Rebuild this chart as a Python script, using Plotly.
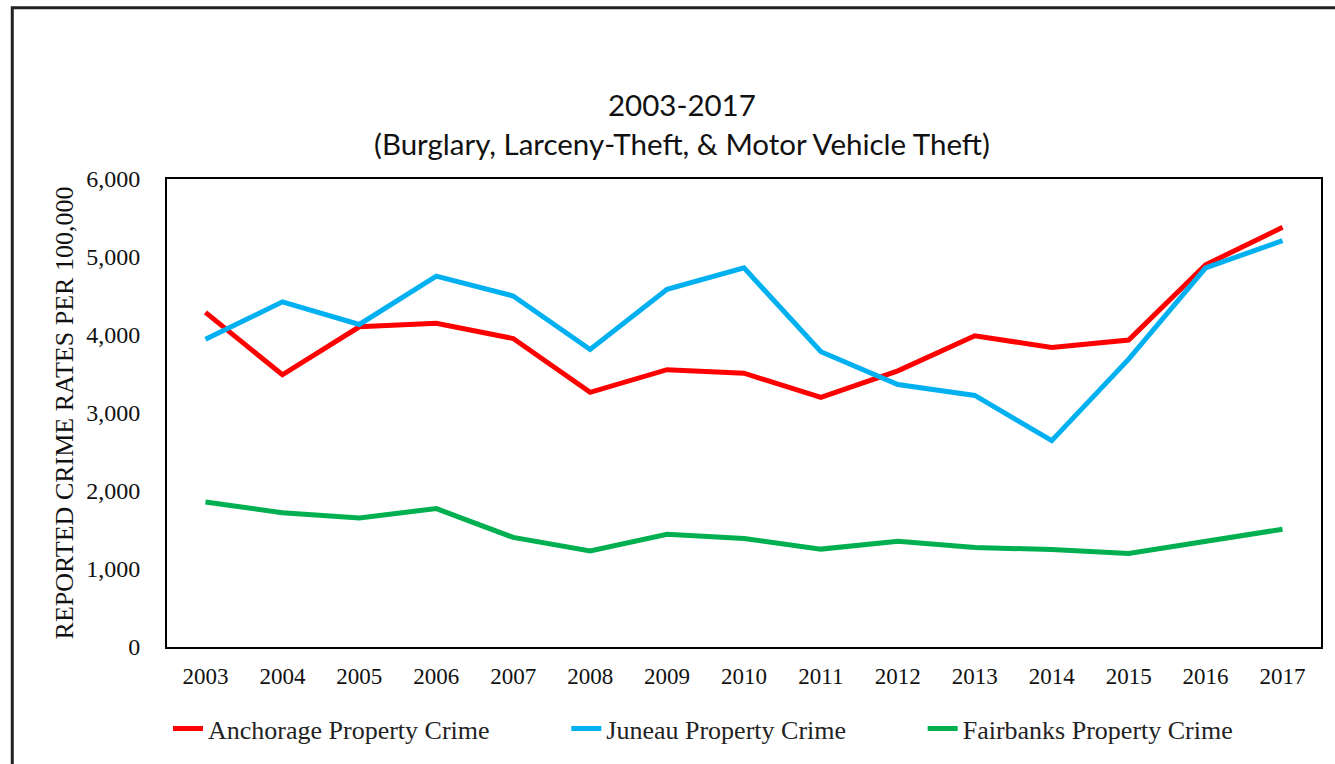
import plotly.graph_objects as go

years = [2003, 2004, 2005, 2006, 2007, 2008, 2009, 2010, 2011, 2012, 2013, 2014, 2015, 2016, 2017]
anchorage = [4290, 3490, 4105, 4150, 3955, 3265, 3555, 3510, 3200, 3540, 3990, 3840, 3935, 4900, 5380]
juneau = [3945, 4425, 4135, 4755, 4500, 3815, 4585, 4860, 3785, 3365, 3225, 2645, 3690, 4860, 5210]
fairbanks = [1860, 1720, 1655, 1775, 1405, 1230, 1445, 1390, 1255, 1355, 1275, 1250, 1200, 1360, 1510]
y_ticks = [0, 1000, 2000, 3000, 4000, 5000, 6000]

series_names = ["Anchorage Property Crime", "Juneau Property Crime", "Fairbanks Property Crime"]
series_colors = ["#FF0000", "#00B0F0", "#00B050"]
title_lines = ["2003-2017", "(Burglary, Larceny-Theft, & Motor Vehicle Theft)"]

W, H = 1335, 764
L, R, T, B = 167, 12, 179, 115
pw, ph = W - L - R, H - T - B


def px_x(p):
    return (p - L) / pw


def px_y(p):
    return (H - B - p) / ph


fig = go.Figure()
for i, (name, vals, col) in enumerate(zip(series_names, [anchorage, juneau, fairbanks], series_colors)):
    fig.add_trace(go.Scatter(
        x=years, y=vals, mode="lines", name=name,
        line=dict(color=col, width=5),
        legend="legend" if i == 0 else f"legend{i + 1}",
    ))

serif = "Liberation Serif, Times New Roman, serif"
leg_common = dict(orientation="h", xanchor="left", yanchor="middle",
                  font=dict(family=serif, size=26, color="#222222"),
                  bgcolor="rgba(0,0,0,0)", borderwidth=0)

title_font = dict(family="Lato, Calibri, sans-serif", size=29.5, color="#111111")

fig.update_layout(
    width=W, height=H,
    margin=dict(l=L, r=R, t=T, b=B),
    paper_bgcolor="white", plot_bgcolor="white",
    showlegend=True,
    legend=dict(x=px_x(168), y=px_y(731), **leg_common),
    legend2=dict(x=px_x(567), y=px_y(731), **leg_common),
    legend3=dict(x=px_x(924), y=px_y(731), **leg_common),
    annotations=[
        dict(text=title_lines[0], xref="paper", yref="paper", x=px_x(683), y=px_y(104),
             xanchor="center", yanchor="middle", showarrow=False, font=title_font),
        dict(text=title_lines[1], xref="paper", yref="paper", x=px_x(683), y=px_y(143),
             xanchor="center", yanchor="middle", showarrow=False, font=title_font),
    ],
    xaxis=dict(
        range=[2002.5, 2017.5], tickmode="array", tickvals=years,
        ticktext=[str(y) for y in years],
        showgrid=False, zeroline=False, showline=True, mirror=True,
        linecolor="#000000", linewidth=2, ticks="",
        tickfont=dict(family=serif, size=23, color="#111111"),
        ticklabelstandoff=7,
    ),
    yaxis=dict(
        range=[0, 6000], tickmode="array", tickvals=y_ticks,
        tickformat=",", showgrid=False, zeroline=False, showline=True, mirror=True,
        linecolor="#000000", linewidth=2, ticks="",
        tickfont=dict(family=serif, size=24, color="#111111"),
        ticklabelstandoff=20,
        title=dict(text="REPORTED CRIME RATES PER 100,000",
                   font=dict(family=serif, size=26, color="#111111"), standoff=5),
    ),
    shapes=[dict(type="rect", xref="paper", yref="paper",
                 x0=px_x(12), x1=px_x(1345), y0=px_y(7), y1=px_y(775),
                 line=dict(color="#222222", width=3), fillcolor="rgba(0,0,0,0)", layer="below")],
)

fig.write_html("out.html", config={"displayModeBar": False},
               post_script="document.body.style.margin='0';")
